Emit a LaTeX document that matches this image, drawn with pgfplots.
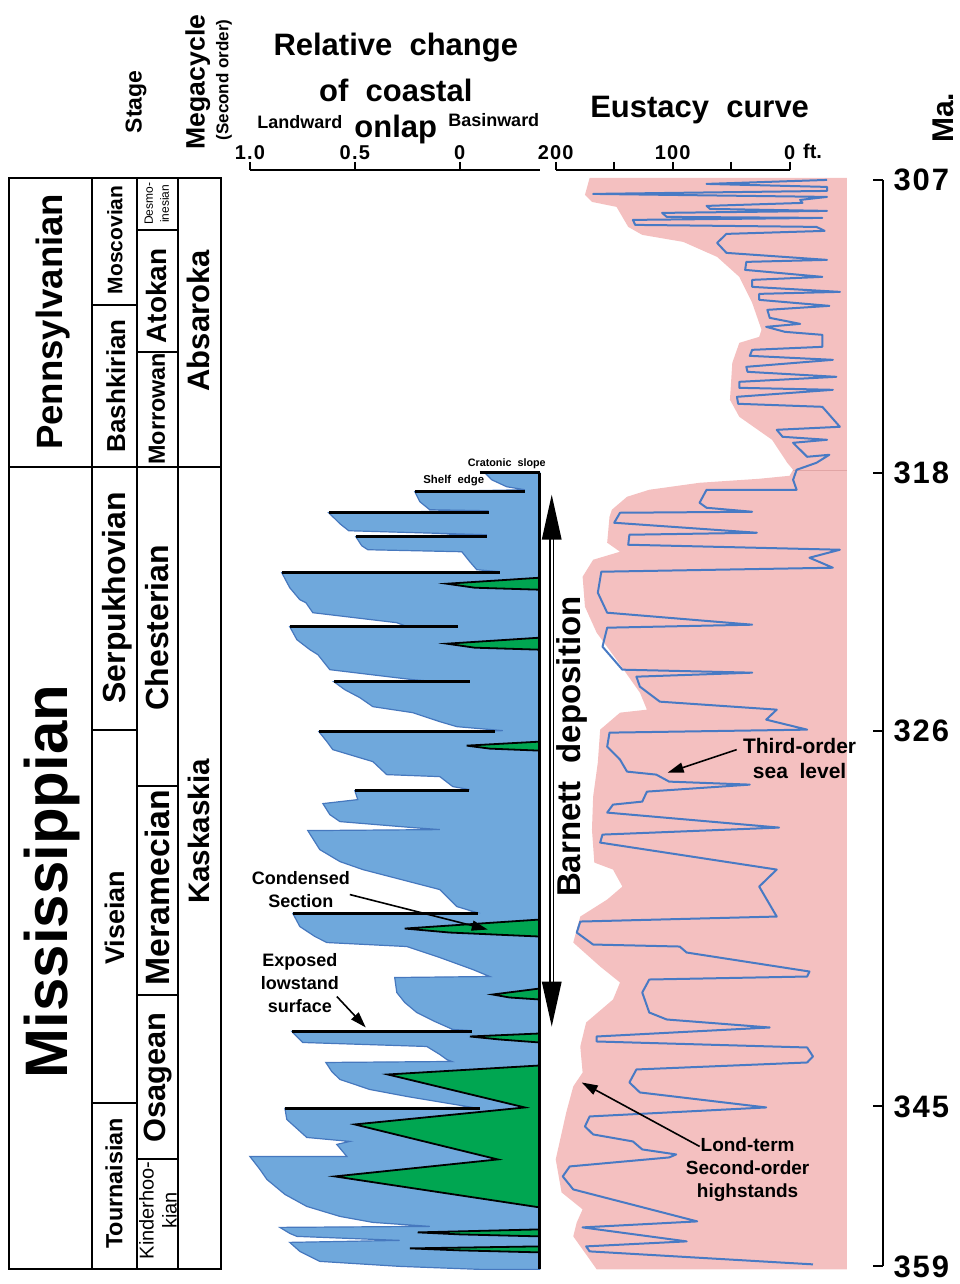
\documentclass[border=0pt]{standalone}
\usepackage{fontspec}
\setmainfont{Liberation Sans}
\newfontfamily\lsp[LetterSpace=6]{Liberation Sans}
\usepackage{pgfplots}
\pgfplotsset{compat=1.18}
\usetikzlibrary{arrows.meta}
\newcommand\fs[1]{\fontsize{#1}{#1}\selectfont}
\newcommand\fsl[2]{\fontsize{#1}{#2}\selectfont}
\definecolor{onlapblue}{RGB}{111,168,220}
\definecolor{onlapedge}{RGB}{70,120,190}
\definecolor{cgreen}{RGB}{0,166,81}
\definecolor{epink}{RGB}{244,192,192}
\definecolor{epinkd}{RGB}{225,165,165}
\definecolor{eline}{RGB}{72,122,196}
\pgfplotsset{panel/.style={anchor=north west, scale only axis, clip=false,
  axis line style={-, line width=1pt, black}, tick style={line width=1pt, black}}}
\begin{document}
\begin{tikzpicture}
% ---------------- Relative change of coastal onlap ----------------
\begin{axis}[panel, at={(125pt,-85pt)}, width=145pt, height=550pt,
  xmin=-0.381, xmax=1, x dir=reverse, ymin=170, ymax=1270, y dir=reverse,
  axis x line*=top, axis y line=none,
  xtick={0,0.5,1}, xticklabels={0,0.5,1.0},
  tick align=outside, major tick length=4pt,
  xticklabel style={font=\lsp\fs{10}\bfseries, inner sep=1pt}]
\addplot[fill=onlapblue, draw=onlapedge, line width=0.6pt] coordinates {
(-0.381,473) (-0.119,473) (-0.152,480) (-0.224,487) (-0.310,490)
(0.214,492) (0.190,502) (0.143,510) (-0.138,511)
(0.624,513) (0.571,524) (0.529,531) (-0.129,535)
(0.495,537) (0.467,546) (0.438,550) (-0.010,552) (-0.048,562) (-0.081,570) (-0.190,572)
(0.848,573) (0.810,588) (0.762,600) (0.733,603) (0.700,613) (0.300,623) (0.262,626)
(0.810,627) (0.776,640) (0.714,650) (0.676,655) (0.619,670) (0.224,680) (0.167,681)
(0.600,682) (0.548,690) (0.476,698) (0.414,707) (0.224,713) (0.095,722) (0.014,727) (-0.205,731)
(0.671,732) (0.633,742) (0.605,750) (0.414,762) (0.348,775) (0.095,777) (0.033,787) (-0.048,790)
(0.500,791) (0.486,800) (0.652,804) (0.619,815) (0.571,822) (0.224,828) (0.095,830)
(0.724,831) (0.667,850) (0.571,862) (0.462,870) (0.095,890) (0.014,907) (-0.081,913)
(0.795,914) (0.762,927) (0.690,937) (0.633,943) (0.252,947) (0.095,958) (-0.062,970) (-0.143,977)
(0.310,978) (0.300,993) (0.262,1003) (0.205,1013) (0.119,1022) (0.033,1030) (-0.048,1031)
(0.800,1032) (0.748,1043) (0.157,1047) (0.095,1055) (0.062,1060) (0.038,1062)
(0.638,1063) (0.610,1072) (0.571,1080) (0.429,1090) (0.252,1097) (-0.062,1108)
(0.833,1109) (0.824,1120) (0.729,1138) (0.524,1142) (0.586,1145) (0.538,1157)
(1.000,1157) (0.952,1170) (0.919,1180) (0.833,1195) (0.729,1207) (0.571,1217) (0.414,1223) (0.143,1227)
(0.857,1228) (0.810,1234) (0.776,1237) (0.286,1241) (0.810,1243) (0.762,1252) (0.667,1262)
(0.286,1267) (-0.095,1270) (-0.381,1270)} -- cycle;
% condensed sections
\addplot[fill=cgreen, draw=black, line width=0.9pt] coordinates {(-0.381,578) (0.062,584) (-0.071,588) (-0.381,590)} -- cycle;
\addplot[fill=cgreen, draw=black, line width=0.9pt] coordinates {(-0.381,638) (0.062,644) (-0.071,648) (-0.381,650)} -- cycle;
\addplot[fill=cgreen, draw=black, line width=0.9pt] coordinates {(-0.381,742) (-0.033,746) (-0.143,749) (-0.381,751)} -- cycle;
\addplot[fill=cgreen, draw=black, line width=0.9pt] coordinates {(-0.381,920) (0.262,929) (0.048,933) (-0.381,937)} -- cycle;
\addplot[fill=cgreen, draw=black, line width=0.9pt] coordinates {(-0.381,989) (-0.157,995) (-0.238,998) (-0.381,1000)} -- cycle;
\addplot[fill=cgreen, draw=black, line width=0.9pt] coordinates {(-0.381,1034) (-0.048,1037) (-0.190,1040) (-0.381,1043)} -- cycle;
\addplot[fill=cgreen, draw=black, line width=0.9pt] coordinates {(-0.381,1066) (0.343,1075) (-0.310,1108) (0.500,1125) (-0.181,1160) (0.595,1177) (-0.381,1208)} -- cycle;
\addplot[fill=cgreen, draw=black, line width=0.9pt] coordinates {(-0.381,1230) (0.200,1233) (0,1235) (-0.381,1237)} -- cycle;
\addplot[fill=cgreen, draw=black, line width=0.9pt] coordinates {(-0.381,1247) (0.238,1249) (0,1251) (-0.381,1253)} -- cycle;
% sequence boundaries (lowstand surfaces)
\addplot[black, line width=1.4pt] coordinates {(-0.095,473) (-0.381,473)};
\addplot[black, line width=1.4pt] coordinates {(0.214,492) (-0.310,492)};
\addplot[black, line width=1.4pt] coordinates {(0.624,513) (-0.138,513)};
\addplot[black, line width=1.4pt] coordinates {(0.495,537) (-0.129,537)};
\addplot[black, line width=1.4pt] coordinates {(0.848,573) (-0.190,573)};
\addplot[black, line width=1.4pt] coordinates {(0.810,627) (0.010,627)};
\addplot[black, line width=1.4pt] coordinates {(0.600,682) (-0.048,682)};
\addplot[black, line width=1.4pt] coordinates {(0.671,732) (-0.167,732)};
\addplot[black, line width=1.4pt] coordinates {(0.500,791) (-0.043,791)};
\addplot[black, line width=1.4pt] coordinates {(0.795,914) (-0.086,914)};
\addplot[black, line width=1.4pt] coordinates {(0.800,1032) (-0.057,1032)};
\addplot[black, line width=1.4pt] coordinates {(0.833,1109) (-0.095,1109)};
\addplot[black, line width=1.3pt] coordinates {(-0.381,473) (-0.381,1270)};
\end{axis}
% ---------------- Eustacy curve ----------------
\begin{axis}[panel, at={(278pt,-85pt)}, width=117pt, height=550pt,
  xmin=0, xmax=200, x dir=reverse, ymin=170, ymax=1270, y dir=reverse,
  axis x line*=top, axis y line=none,
  xtick={0,50,100,150,200}, xticklabels={0,,100,,200},
  tick align=outside, major tick length=4pt,
  xticklabel style={font=\lsp\fs{10}\bfseries, inner sep=1pt}]
\addplot[fill=epink, draw=none] coordinates {
(171,178) (175,195) (169,202) (148,207) (138,227) (126,235) (91,242) (62,257) (43,277) (32,303)
(24,330) (26,337) (43,343) (49,363) (51,400) (43,417) (15,440) (2,463) (-3,470) (0,476)
(26,479) (77,483) (120,490) (139,497) (152,510) (154,517) (156,543) (145,552) (168,560) (177,577)
(175,607) (165,633) (148,660) (128,693) (122,710) (145,713) (162,730) (164,763) (168,797) (169,830)
(167,863) (151,870) (143,887) (156,900) (179,917) (185,943) (162,967) (145,983) (151,1000) (174,1023)
(179,1047) (177,1073) (185,1087) (191,1113) (200,1160) (195,1193) (177,1210) (182,1223) (185,1237)
(171,1260) (165,1270) (-49,1270) (-49,178)} -- cycle;
\addplot[epinkd, line width=0.5pt] coordinates {(-3,471) (-49,471)};
\addplot[eline, line width=1pt, line join=round] coordinates {
(-32,180) (71,184) (-32,187) (-32,191) (168,194) (-32,197) (-9,200) (-11,203) (71,206) (68,209)
(-32,211) (109,213) (105,217) (-28,218) (134,220) (132,225) (-23,227) (-30,231) (54,234) (62,243)
(54,253) (-32,260) (37,262) (38,270) (-28,277) (32,280) (32,287) (-43,292) (26,294) (26,300)
(-34,306) (19,310) (17,318) (-9,324) (20,327) (4,332) (-28,335) (-28,347) (32,350) (34,356)
(-37,360) (37,367) (36,372) (-40,377) (43,382) (43,388) (-37,390) (45,397) (44,404) (-28,407)
(-34,415) (-43,427) (11,430) (6,437) (-32,440) (-3,443) (-15,457) (-34,455) (-23,463) (-6,470)
(-3,480) (-6,490) (71,490) (77,503) (71,508) (32,512) (145,513) (150,523) (28,533) (137,535)
(138,545) (-43,550) (-17,558) (-37,568) (161,572) (164,593) (156,613) (32,625) (156,628) (160,647)
(143,670) (32,673) (131,677) (128,687) (111,702) (11,710) (20,720) (-15,730) (154,733) (156,747)
(145,760) (139,772) (114,775) (103,782) (34,785) (122,792) (126,802) (151,805) (156,813) (9,828)
(160,835) (162,843) (11,870) (26,887) (11,917) (179,922) (182,933) (168,945) (94,947) (88,953)
(-17,972) (-15,977) (120,980) (126,993) (120,1013) (105,1020) (17,1028) (165,1037) (165,1042) (-15,1048)
(-20,1057) (-15,1063) (131,1070) (137,1083) (128,1093) (20,1108) (171,1117) (175,1127) (168,1135) (134,1142)
(126,1150) (97,1155) (103,1158) (188,1167) (194,1177) (185,1190) (79,1222) (177,1228) (88,1242) (174,1247)
(171,1252) (-20,1265)};
\end{axis}
% ---------------- time scale (Ma) ----------------
\begin{axis}[panel, at={(436.5pt,-90pt)}, width=5pt, height=543.5pt,
  xmin=0, xmax=1, ymin=180, ymax=1267, y dir=reverse,
  axis y line*=right, axis x line=none,
  ytick={180,473,731,1107,1267}, yticklabels={307,318,326,345,359},
  tick align=inside, major tick length=5pt,
  yticklabel style={font=\lsp\fs{15.5}\bfseries, anchor=west, xshift=2pt}]
\addplot[draw=none] coordinates {(0,180) (1,1267)};
\end{axis}
% ---------------- frame: column, titles, annotations ----------------
\begin{axis}[anchor=north west, at={(0pt,0pt)}, scale only axis, width=480pt, height=642pt,
  xmin=0, xmax=960, ymin=0, ymax=1284, y dir=reverse, hide axis, clip=false]
\addplot[draw=none] coordinates {(0,0) (960,1284)};
\path (axis cs:0,0) (axis cs:960,1284);
% column lines
\draw[line width=1.1pt] (axis cs:9,178) rectangle (axis cs:221,1270);
\draw[line width=1pt] (axis cs:92,178) -- (axis cs:92,1270);
\draw[line width=1pt] (axis cs:137,178) -- (axis cs:137,1270);
\draw[line width=1pt] (axis cs:178,178) -- (axis cs:178,1270);
\draw[line width=1pt] (axis cs:9,467) -- (axis cs:221,467);
\draw[line width=1pt] (axis cs:92,305) -- (axis cs:137,305);
\draw[line width=1pt] (axis cs:92,730) -- (axis cs:137,730);
\draw[line width=1pt] (axis cs:92,1104) -- (axis cs:137,1104);
\draw[line width=1pt] (axis cs:137,230) -- (axis cs:178,230);
\draw[line width=1pt] (axis cs:137,352) -- (axis cs:178,352);
\draw[line width=1pt] (axis cs:137,786) -- (axis cs:178,786);
\draw[line width=1pt] (axis cs:137,995) -- (axis cs:178,995);
\draw[line width=1pt] (axis cs:137,1160) -- (axis cs:178,1160);
% column texts
\node[rotate=90, inner sep=0pt, font=\fs{18.3}\bfseries] at (axis cs:53,322) {Pennsylvanian};
\node[rotate=90, inner sep=0pt, font=\fs{30}\bfseries] at (axis cs:52,882) {Mississippian};
\node[rotate=90, inner sep=0pt, font=\fs{10.5}\bfseries] at (axis cs:115,240) {Moscovian};
\node[rotate=90, inner sep=0pt, font=\fs{13}\bfseries] at (axis cs:116,386) {Bashkirian};
\node[rotate=90, inner sep=0pt, font=\fs{16}\bfseries] at (axis cs:117,598) {Serpukhovian};
\node[rotate=90, inner sep=0pt, font=\fs{13.5}\bfseries] at (axis cs:115,918) {Viseian};
\node[rotate=90, inner sep=0pt, font=\fs{11.7}\bfseries] at (axis cs:114,1184) {Tournaisian};
\node[rotate=90, inner sep=0pt, font=\fsl{6}{8}, align=center] at (axis cs:157,204) {Desmo-\\inesian};
\node[rotate=90, inner sep=0pt, font=\fs{14}\bfseries] at (axis cs:157,296) {Atokan};
\node[rotate=90, inner sep=0pt, font=\fs{11.7}\bfseries] at (axis cs:157,409) {Morrowan};
\node[rotate=90, inner sep=0pt, font=\fs{16}\bfseries] at (axis cs:157,628) {Chesterian};
\node[rotate=90, inner sep=0pt, font=\fs{16.9}\bfseries] at (axis cs:158,888) {Meramecian};
\node[rotate=90, inner sep=0pt, font=\fs{15.4}\bfseries] at (axis cs:158,1078) {Osagean};
\node[rotate=90, inner sep=0pt, font=\fsl{10}{11.5}, align=center] at (axis cs:158,1211) {Kinderhoo-\\kian};
\node[rotate=90, inner sep=0pt, font=\fs{15.5}\bfseries] at (axis cs:199,321) {Absaroka};
\node[rotate=90, inner sep=0pt, font=\fs{14.8}\bfseries] at (axis cs:199,832) {Kaskaskia};
% headers
\node[rotate=90, inner sep=0pt, font=\fs{11.5}\bfseries] at (axis cs:136,102) {Stage};
\node[rotate=90, inner sep=0pt, font=\fs{13.3}\bfseries] at (axis cs:198,82) {Megacycle};
\node[rotate=90, inner sep=0pt, font=\fs{8.5}\bfseries] at (axis cs:224,80) {(Second order)};
\node[inner sep=0pt, font=\fs{15.5}\bfseries] at (axis cs:396,48) {Relative\ \ change};
\node[inner sep=0pt, font=\fs{15.5}\bfseries] at (axis cs:396,90) {of\ \ coastal};
\node[inner sep=0pt, font=\fs{15.5}\bfseries] at (axis cs:396,130) {onlap};
\node[inner sep=0pt, font=\fs{9}\bfseries] at (axis cs:300,122) {Landward};
\node[inner sep=0pt, font=\fs{9}\bfseries] at (axis cs:494,120) {Basinward};
\node[inner sep=0pt, font=\fs{15.5}\bfseries] at (axis cs:700,110) {Eustacy\ \ curve};
\node[rotate=90, inner sep=0pt, font=\fs{15}\bfseries] at (axis cs:944,118) {Ma.};
\node[inner sep=0pt, font=\fs{10}\bfseries] at (axis cs:813,151) {ft.};
% onlap annotations
\node[inner sep=0pt, font=\fs{5.4}\bfseries] at (axis cs:507,464) {Cratonic\ \ slope};
\node[inner sep=0pt, font=\fs{5.7}\bfseries] at (axis cs:454,481) {Shelf\ \ edge};
\node[inner sep=0pt, font=\fsl{9}{11.5}\bfseries, align=center] at (axis cs:301,890) {Condensed\\Section};
\draw[-{Triangle[length=8pt,width=5pt]}, line width=0.8pt] (axis cs:350,895) -- (axis cs:488,930);
\node[inner sep=0pt, font=\fsl{9}{11.5}\bfseries, align=center] at (axis cs:300,984) {Exposed\\lowstand\\surface};
\draw[-{Triangle[length=8pt,width=5pt]}, line width=0.8pt] (axis cs:337,997) -- (axis cs:366,1028);
\node[inner sep=0pt, font=\fsl{10.5}{12.5}\bfseries, align=center] at (axis cs:800,759) {Third-order\\sea\ \ level};
\draw[-{Triangle[length=8pt,width=5pt]}, line width=0.8pt] (axis cs:737,750) -- (axis cs:668,773);
\node[inner sep=0pt, font=\fsl{9.5}{11.5}\bfseries, align=center] at (axis cs:748,1170) {Lond-term\\Second-order\\highstands};
\draw[-{Triangle[length=8pt,width=5pt]}, line width=0.8pt] (axis cs:700,1147) -- (axis cs:582,1083);
% Barnett deposition
\node[rotate=90, inner sep=0pt, font=\fs{16.5}\bfseries] at (axis cs:572,747) {Barnett\ \ deposition};
\draw[line width=0.6pt, double=white, double distance=1.2pt] (axis cs:552,536) -- (axis cs:552,985);
\fill (axis cs:552,495) -- (axis cs:562,540) -- (axis cs:542,540) -- cycle;
\fill (axis cs:552,1027) -- (axis cs:562,982) -- (axis cs:542,982) -- cycle;
\end{axis}
\end{tikzpicture}
\end{document}
